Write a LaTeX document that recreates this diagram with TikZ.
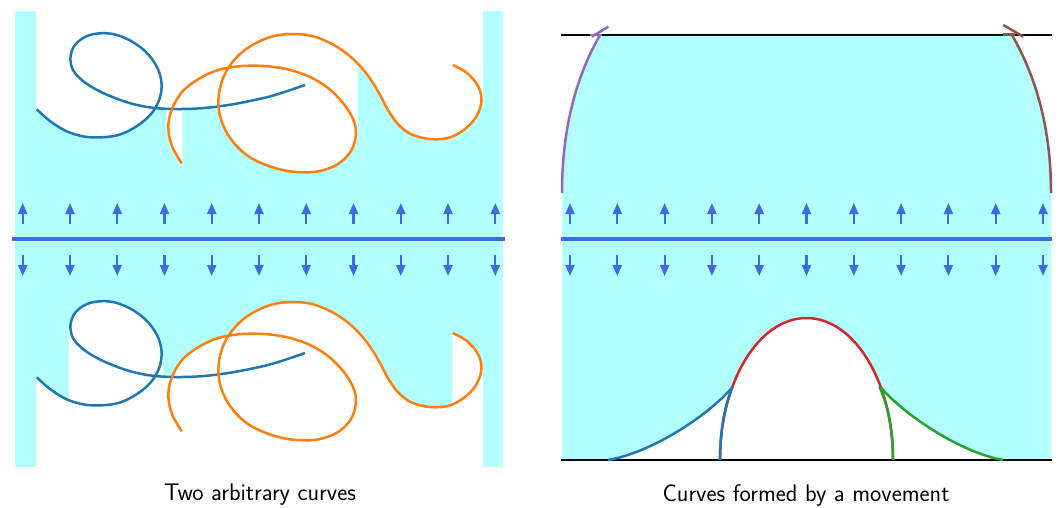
\documentclass[tikz,border=0pt]{standalone}
\usetikzlibrary{arrows.meta}
\definecolor{cy}{RGB}{178,255,255}
\definecolor{tblue}{HTML}{1F77B4}
\definecolor{torange}{HTML}{FF7F0E}
\definecolor{tred}{HTML}{D62728}
\definecolor{tgreen}{HTML}{2CA02C}
\definecolor{tpurple}{HTML}{9467BD}
\definecolor{tbrown}{HTML}{8C564B}
\definecolor{rblue}{HTML}{4169E1}
\newcommand\bluecurve{plot[smooth,tension=0.6] coordinates {(36.7,109.3) (50,121) (66,131) (84,136.5) (102,137.3) (120,134.5) (137,126) (151,114) (159.5,99) (161.5,83) (157,67) (146,52) (131,41) (115,34.5) (100,33.3) (86,36.5) (75,45) (70.5,57) (73,70) (83,81) (98,90.5) (115,98) (133,104) (153,107.8) (175,109) (200,108.3) (225,105.5) (250,101) (275,95) (305,85)}}
\newcommand\orangecurve{plot[smooth,tension=0.6] coordinates {(181.7,163.3) (172,146) (168.3,127) (172,109) (182,92) (197,80) (215,71) (233,67) (250,65.7) (270,66.5) (290,70) (310,77) (328,88) (343,103) (353,119) (356,134) (351,151) (338,164) (320,171) (303,172.3) (285,170.5) (266,165) (248,156) (233,142) (223,125) (218.5,107) (220,88) (227,70) (240,54) (256,43) (274,36) (293,34) (312,36) (330,43) (346,53) (360,66) (371,80) (380,95) (388,110) (397,123) (408,132.5) (421,137.5) (436,139.3) (451,137) (465,129) (476,117) (481.5,101) (478,86) (467,73) (452.7,65)}}
\begin{document}
\begin{tikzpicture}[x=1pt,y=-1pt,
  curve/.style={line width=2.5pt},
  sweep/.style={white,line width=3pt},
  field/.style={rblue,line width=2.1pt,-{Triangle[length=11pt,width=9pt]}},
  axisline/.style={rblue,line width=3.5pt},
  blk/.style={black,line width=2pt},
  captext/.style={font=\fontsize{24}{28}\sffamily,anchor=base}]
\useasboundingbox (0,0) rectangle (1059,507);
% ---------- left panel ----------
\fill[cy] (15,11) rectangle (503,467);
\begin{scope}
  \clip (15,11) rectangle (503,239);
  \foreach \s in {1.5,4,...,240} {
    \draw[sweep,shift={(0,-\s)}] \bluecurve;
    \draw[sweep,shift={(0,-\s)}] \orangecurve;
  }
\end{scope}
\begin{scope}
  \clip (15,239) rectangle (503,467);
  \foreach \s in {1.5,4,...,240} {
    \draw[sweep,shift={(0,268+\s)}] \bluecurve;
    \draw[sweep,shift={(0,268+\s)}] \orangecurve;
  }
\end{scope}
\foreach \i in {0,...,10} {
  \draw[field] (22.7+47.26*\i,224) -- (22.7+47.26*\i,203);
  \draw[field] (22.7+47.26*\i,255) -- (22.7+47.26*\i,276);
}
\draw[axisline] (12,239) -- (505,239);
\draw[curve,tblue] \bluecurve;
\draw[curve,torange] \orangecurve;
\begin{scope}[shift={(0,268)}]
  \draw[curve,tblue] \bluecurve;
  \draw[curve,torange] \orangecurve;
\end{scope}
\node[captext] (capL) at (260,500) {Two arbitrary curves};
% ---------- right panel ----------
\fill[cy] (562,193) .. controls (562,120) and (580,70) .. (600,35) -- (1012,35)
  .. controls (1032,70) and (1051,120) .. (1051,193) -- (1051,460) -- (562,460) -- cycle;
\fill[white] (608,460) .. controls (650,453) and (705,418) .. (731.9,388)
  arc[start angle=210.47,end angle=329.53,x radius=86.5,y radius=142]
  .. controls (908,418) and (963,453) .. (1003,460) -- cycle;
\foreach \i in {0,...,10} {
  \draw[field] (570+47.3*\i,224) -- (570+47.3*\i,203);
  \draw[field] (570+47.3*\i,255) -- (570+47.3*\i,276);
}
\draw[axisline] (561,239) -- (1052,239);
\draw[blk] (561,34.5) -- (1052,34.5);
\draw[blk] (561,460) -- (1052,460);
\draw[curve,tpurple] (562,193) .. controls (562,120) and (580,70) .. (600,35);
\draw[curve,tpurple] (590,35) -- (601.7,35);
\draw[curve,tpurple] (591.7,36.7) -- (608.3,26.7);
\draw[curve,tbrown] (1051,193) .. controls (1051,120) and (1032,70) .. (1012,35);
\draw[curve,tbrown] (1003,34.5) -- (1015,34.5);
\draw[curve,tbrown] (1003.3,25) -- (1023.3,36.7);
\draw[curve,tred] (720,460) arc[start angle=180,end angle=360,x radius=86.5,y radius=142];
\draw[curve,tblue] (608,460) .. controls (650,453) and (705,418) .. (731.9,388);
\draw[curve,tblue] (720,460) .. controls (720,430) and (725,405) .. (732.5,387);
\draw[curve,tgreen] (1003,460) .. controls (963,453) and (908,418) .. (881.1,388);
\draw[curve,tgreen] (893,460) .. controls (893,430) and (888,405) .. (879.5,387);
\node[captext] (capR) at (806,501) {Curves formed by a movement};
\end{tikzpicture}
\end{document}
